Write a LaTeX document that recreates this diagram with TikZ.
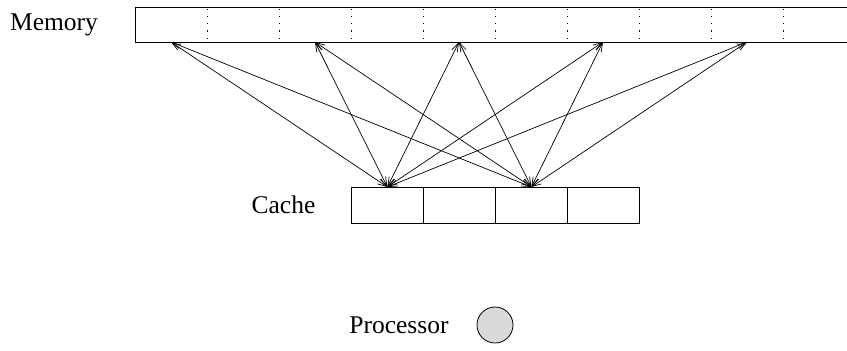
\documentclass[tikz,border=0pt]{standalone}
\usepackage{fontspec}
\setmainfont{Liberation Serif}
\usetikzlibrary{arrows.meta}
\begin{document}
\begin{tikzpicture}[x=1pt,y=-1pt,
  box/.style={draw,line width=0.8pt},
  cellsep/.style={line width=1pt,dash pattern=on 1.2pt off 6.1pt},
  label/.style={font=\fontsize{25.5}{29}\selectfont,inner sep=0pt},
  link/.style={line width=0.7pt,{Straight Barb[length=9pt,width=6pt]}-{Straight Barb[length=9pt,width=6pt]}}]
\useasboundingbox (0,0) rectangle (847,351);
\clip (0,0) rectangle (847,351);

% memory: ten cells of 72pt, running off the right edge
\draw[box] (135,7) rectangle (855,42);
\foreach \i in {1,...,9}
  \draw[cellsep] (135+72*\i,8.5) -- (135+72*\i,41);
\node[label] (memlabel) at (54,24.5) {Memory};
\foreach \i [count=\k] in {0,2,4,6,8}
  \coordinate (m\k) at (171+72*\i,42);

% cache: four cells
\foreach \i in {0,...,3}
  \node[box,minimum width=72pt,minimum height=36pt,inner sep=0pt,anchor=north west]
    (c\i) at (351+72*\i,187) {};
\node[label] (cachelabel) at (283.5,205) {Cache};

% every second memory block maps onto cache lines 0 and 2
\foreach \k in {1,...,5} {
  \draw[link] (m\k) -- (c0.north);
  \draw[link] (m\k) -- (c2.north);
}

% processor
\node[label] (proclabel) at (399,325) {Processor};
\node[circle,draw,line width=0.8pt,fill=black!15,minimum size=36pt,inner sep=0pt]
  (cpu) at (495,325) {};
\end{tikzpicture}
\end{document}
